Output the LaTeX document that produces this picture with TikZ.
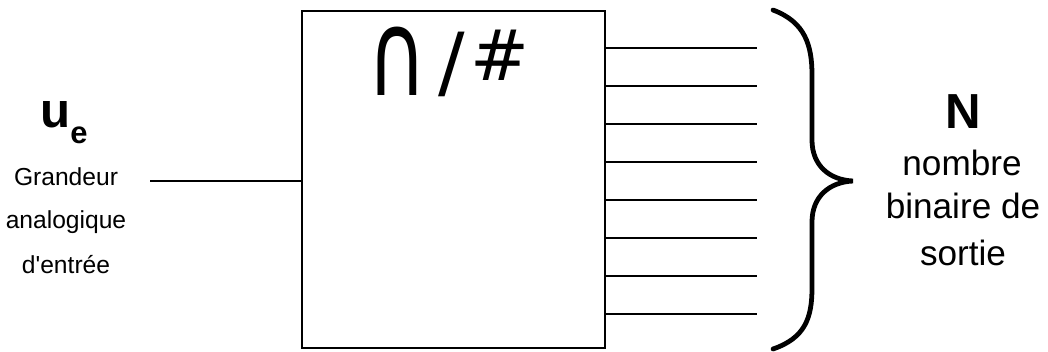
\documentclass[tikz,border=0pt]{standalone}
\usepackage{fontspec}
\setmainfont{Liberation Sans}
\newfontfamily\symfont{DejaVu Sans}
\usetikzlibrary{calc,positioning}

\tikzset{
  lbltxt/.style={anchor=base,inner sep=0pt,font=\fontsize{17.5}{19}\selectfont},
  outtxt/.style={anchor=base,inner sep=0pt,font=\fontsize{25}{28}\selectfont},
  bitline/.style={line width=1.1pt},
}

\begin{document}
\begin{tikzpicture}[x=0.025cm,y=-0.025cm]
\path[use as bounding box] (0,0) rectangle (1048,351);

% convertisseur
\node[draw,line width=1.4pt,minimum width=7.575cm,minimum height=8.425cm,inner sep=0pt] (adc) at (453.5,179.5) {};
\node[inner sep=0pt,anchor=base,font=\symfont\fontsize{58}{60}\selectfont] (cap) at (397,95) {\scalebox{1}[1.45]{∩}};
\node[inner sep=0pt,anchor=base,font=\symfont\fontsize{56}{58}\selectfont] (slash) at (452,89) {/};
\node[inner sep=0pt,anchor=base,font=\symfont\fontsize{50}{52}\selectfont] (hash) at (500,80) {\#};

% entree
\node[inner sep=0pt,anchor=base,font=\bfseries\fontsize{35}{36}\selectfont] (ue) at (64,127) {u\raisebox{-0.33em}{\fontsize{22}{22}\selectfont e}};
\node[lbltxt] (g1) at (66,185) {Grandeur};
\node[lbltxt] (g2) at (66,228) {analogique};
\node[lbltxt] (g3) at (66,273) {d\textquotesingle entrée};
\coordinate (in) at (150,181);
\draw[line width=1.1pt] (in) -- (in -| adc.west);

% sorties
\foreach \i/\y in {1/48,2/86,3/124,4/162,5/200,6/238,7/276,8/314}{
  \coordinate (out\i) at (757,\y);
  \draw[bitline] (adc.east |- out\i) -- (out\i);
}

% accolade
\draw[line width=3.4pt,line cap=round] (773,10) .. controls (805,22) and (812,45) .. (812,75) -- (812,140)
  .. controls (812,166) and (830,180) .. (853,181)
  .. controls (830,182) and (812,196) .. (812,222) -- (812,288)
  .. controls (812,318) and (805,338) .. (773,349);

% nombre de sortie
\node[inner sep=0pt,anchor=base,font=\bfseries\fontsize{35}{36}\selectfont] (N) at (963,128) {N};
\node[outtxt] (s1) at (962,175) {nombre};
\node[outtxt] (s2) at (963,218) {binaire de};
\node[outtxt] (s3) at (963,265) {sortie};
\end{tikzpicture}
\end{document}
